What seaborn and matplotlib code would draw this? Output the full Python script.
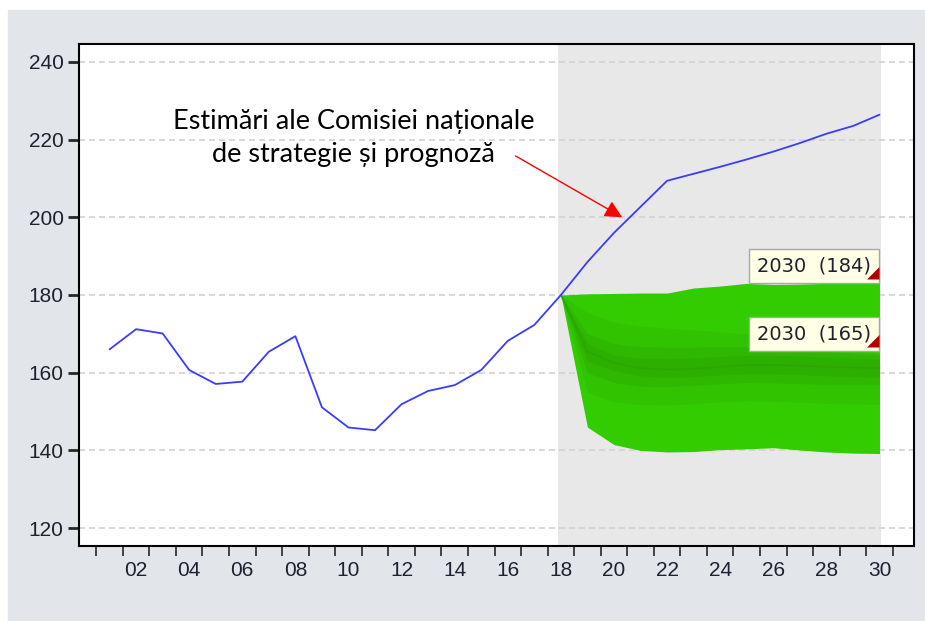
import numpy as np
import pandas as pd
import matplotlib
matplotlib.use("Agg")
import matplotlib.pyplot as plt
import seaborn as sns
from matplotlib.patches import Rectangle

# ---- data ----
years = list(range(2001, 2031))
index_values = [166.0, 171.2, 170.1, 160.7, 157.1, 157.7, 165.4, 169.4, 151.1, 145.9,
                145.2, 151.9, 155.3, 156.8, 160.7, 168.2, 172.3, 180.0, 188.5, 196.0,
                202.7, 209.4, 211.2, 213.0, 214.9, 216.9, 219.1, 221.5, 223.5, 226.4]

fan_years = list(range(2018, 2031))
outer_hi = [180, 180.3, 180.4, 180.5, 180.5, 181.8, 182.3, 183.0, 182.7, 182.8, 183.0, 183.3, 184.0]
outer_lo = [180, 146.0, 141.5, 140.0, 139.6, 139.7, 140.2, 140.4, 140.7, 140.1, 139.6, 139.3, 139.2]
band2_hi = [180, 175.5, 173.0, 172.0, 171.5, 171.0, 170.5, 170.0, 169.5, 168.5, 167.5, 166.3, 165.0]
band2_lo = [180, 155.0, 152.5, 151.8, 151.7, 152.0, 152.5, 152.8, 152.7, 152.4, 152.1, 152.0, 151.9]
band3_hi = [180, 170.0, 167.5, 166.7, 166.5, 166.5, 166.7, 166.7, 166.5, 166.0, 165.5, 165.0, 164.5]
band3_lo = [180, 160.0, 157.5, 156.5, 156.4, 156.8, 157.2, 157.5, 157.4, 157.2, 157.0, 157.0, 157.0]
band4_hi = [180, 167.5, 164.5, 163.7, 163.6, 163.8, 164.2, 164.5, 164.5, 164.3, 164.0, 163.7, 163.5]
band4_lo = [180, 163.0, 160.5, 159.2, 158.8, 159.0, 159.4, 159.7, 159.7, 159.5, 159.2, 159.0, 158.8]
median = [180, 165.5, 162.5, 161.2, 160.8, 161.0, 161.5, 162.0, 162.0, 161.8, 161.5, 161.3, 161.2]

x_labels = ["%02d" % (y % 100) for y in range(2002, 2031, 2)]
y_ticks = [120, 140, 160, 180, 200, 220, 240]

sns.set_style("white")
plt.rcParams['font.family'] = ['Liberation Sans', 'DejaVu Sans']

fig = plt.figure(figsize=(9.25, 6.21), dpi=100, facecolor='white')
fig.patches.append(Rectangle((8 / 925, 0), 1, 1 - 10 / 621, transform=fig.transFigure,
                             color='#e2e6ea', zorder=-10))
ax = fig.add_axes([79 / 925, 1 - 546 / 621, (914 - 79) / 925, (546 - 44) / 621])
ax.set_facecolor('white')

# forecast period shading
ax.axvspan(2017.9, 2030.05, color='#e8e8e8', lw=0, zorder=0)

# fan bands, outer to inner
bands = [(outer_lo, outer_hi, '#33cc00'),
         (band2_lo, band2_hi, '#31c200'),
         (band3_lo, band3_hi, '#2fb800'),
         (band4_lo, band4_hi, '#2daf00')]
for lo, hi, col in bands:
    ax.fill_between(fan_years, lo, hi, color=col, lw=0, zorder=2)
ax.plot(fan_years, median, color='#2ba800', lw=1.2, zorder=2.5)

sns.lineplot(x=years, y=index_values, color='#3b3bff', lw=1.3, ax=ax, zorder=4)

# grid
ax.set_axisbelow(True)
ax.yaxis.grid(True, ls=(0, (3.6, 2.4)), color='#d2d2d2', lw=1.2)
ax.xaxis.grid(False)

ax.set_xlim(1999.85, 2031.3)
ax.set_ylim(115.4, 244.6)
ax.set_yticks(y_ticks)
ax.set_xticks(np.arange(2000.5, 2031, 1.0))
ax.set_xticklabels([])
ax.set_xticks(list(range(2002, 2031, 2)), minor=True)
ax.set_xticklabels(x_labels, minor=True)
ax.tick_params(axis='y', direction='out', length=8, width=2, pad=3, labelsize=15,
               labelcolor='#202030', left=True)
ax.tick_params(axis='x', which='major', direction='out', length=7.5, width=1.2, bottom=True)
ax.tick_params(axis='x', which='minor', length=0, pad=11, labelsize=15, labelcolor='#202030')
for s in ax.spines.values():
    s.set_color('black')
    s.set_linewidth(1.5)
ax.set_xlabel("")
ax.set_ylabel("")

# annotation
ax.text(2010.19, 220.3, "Estimări ale Comisiei naționale\nde strategie și prognoză",
        ha='center', va='center', fontsize=19.5, family=['Lato', 'DejaVu Sans'],
        linespacing=1.4, color='black', zorder=5)
ax.annotate('', xy=(2020.31, 200.0), xytext=(2016.29, 215.8),
            arrowprops=dict(arrowstyle='-|>,head_length=0.7,head_width=0.35',
                            mutation_scale=15, color='red', lw=1, shrinkA=0, shrinkB=0),
            zorder=5)

# value labels at the end of the fan
for val, ypos in [(184, 184.0), (165, 166.5)]:
    ax.annotate("2030  (%d)" % val, xy=(2030, ypos), xytext=(-6, 3), textcoords='offset points',
                ha='right', va='bottom', fontsize=14, family=['DejaVu Sans'], color='#202030',
                bbox=dict(boxstyle='square,pad=0.4', fc='#ffffe6', ec='#a8a8a8', lw=1),
                zorder=6)
    ax.plot([2030], [ypos], marker=[(0, 0), (-1, 0), (0, 1)], ms=18, color='#b00000',
            mec='none', zorder=7)

fig.savefig("out.png", dpi=100, facecolor=fig.get_facecolor())
